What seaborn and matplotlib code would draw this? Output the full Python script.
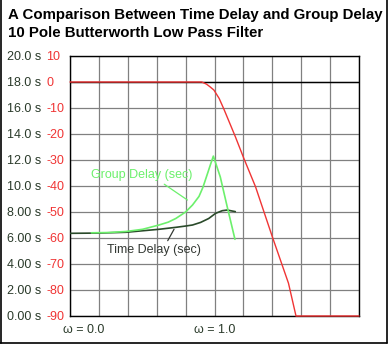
import matplotlib
matplotlib.use("Agg")
import matplotlib.pyplot as plt
from matplotlib.lines import Line2D
import seaborn as sns
import pandas as pd

# ---- data ----
red_w = [-0.25, 0.89, 0.93, 0.96, 0.995, 1.04, 1.08, 1.18, 1.254, 1.355, 1.50, 1.64, 1.705, 2.25]
red_db = [0, 0, -0.8, -1.8, -3.1, -6.3, -10.3, -21, -29.4, -40.3, -59.5, -77.4, -90, -90]

gd_w = [-0.065, 0.08, 0.234, 0.378, 0.52, 0.60, 0.665, 0.75, 0.81, 0.866, 0.90, 0.94, 0.967, 0.99, 1.05, 1.11, 1.177]
gd_s = [6.4, 6.42, 6.5, 6.67, 7.0, 7.22, 7.5, 8.0, 8.54, 9.2, 9.9, 10.97, 11.7, 12.3, 10.7, 8.4, 5.9]

td_w = [-0.25, 0.0, 0.234, 0.52, 0.665, 0.75, 0.81, 0.88, 0.95, 1.01, 1.067, 1.11, 1.18]
td_s = [6.36, 6.38, 6.44, 6.67, 6.82, 6.92, 7.0, 7.2, 7.5, 7.9, 8.1, 8.15, 8.03]

s_ticks = [0, 2, 4, 6, 8, 10, 12, 14, 16, 18, 20]
s_labels = ["0.00 s", "2.00 s", "4.00 s", "6.00 s", "8.00 s", "10.0 s",
            "12.0 s", "14.0 s", "16.0 s", "18.0 s", "20.0 s"]
db_ticks = [-90, -80, -70, -60, -50, -40, -30, -20, -10, 0, 10]
db_labels = ["-90", "-80", "-70", "-60", "-50", "-40", "-30", "-20", "-10", "0", "10"]
x_grid = [-0.25, 0, 0.25, 0.5, 0.75, 1.0, 1.25, 1.5, 1.75, 2.0, 2.25]

title1 = "A Comparison Between Time Delay and Group Delay"
title2 = "10 Pole Butterworth Low Pass Filter"

RED = "#f03434"
LGREEN = "#6cf06c"
DGREEN = "#2a4a2a"
GRID = "#808080"
TXT = "#2a3a2a"

sns.set_style("white")
plt.rcParams["font.family"] = ["Liberation Sans", "DejaVu Sans"]

W, H = 388, 346
fig = plt.figure(figsize=(W / 100, H / 100), dpi=100)
ax = fig.add_axes([70 / W, 30 / H, 289 / W, 260 / H])

ax.set_xlim(-0.25, 2.25)
ax.set_ylim(0, 20)
ax.set_xticks(x_grid)
ax.set_xticklabels([])
ax.set_yticks(s_ticks)
ax.set_yticklabels(s_labels, color=TXT, fontsize=9)
ax.tick_params(axis="both", length=0)
ax.tick_params(axis="y", pad=21)
ax.grid(True, color=GRID, linewidth=0.9)
for sp in ax.spines.values():
    sp.set_color("black")
    sp.set_linewidth(1.0)
    sp.set_visible(True)

ax2 = ax.twinx()
ax2.set_ylim(-90, 10)
ax2.yaxis.tick_left()
ax2.set_yticks(db_ticks)
ax2.set_yticklabels(db_labels, color=RED, fontsize=9)
for lab in ax2.get_yticklabels():
    lab.set_horizontalalignment("left")
ax2.tick_params(axis="y", length=0, pad=17)
ax2.grid(False)
for sp in ax2.spines.values():
    sp.set_visible(False)

# 0 dB reference line
ax2.axhline(0, color="black", linewidth=1.0, zorder=2)

df_red = pd.DataFrame({"w": red_w, "db": red_db})
sns.lineplot(data=df_red, x="w", y="db", ax=ax2, color=RED, linewidth=1.0,
             sort=False, estimator=None, zorder=3)
ax2.lines[-1].set_clip_on(False)

df_gd = pd.DataFrame({"w": gd_w, "s": gd_s})
df_td = pd.DataFrame({"w": td_w, "s": td_s})
sns.lineplot(data=df_td, x="w", y="s", ax=ax2, color=DGREEN, linewidth=1.2,
             sort=False, estimator=None, zorder=4, transform=ax.transData)
sns.lineplot(data=df_gd, x="w", y="s", ax=ax2, color=LGREEN, linewidth=1.2,
             sort=False, estimator=None, zorder=5, transform=ax.transData)
ax2.set_xlabel("")
ax2.set_ylabel("")
ax.set_xlabel("")
ax.set_ylabel("")
ax2.set_xlim(-0.25, 2.25)

# annotations
ax2.annotate("Group Delay (sec)", xy=(0.766, 8.92), xycoords=ax.transData,
             xytext=(0.366, 10.85), textcoords=ax.transData,
             color=LGREEN, fontsize=9, ha="center", va="center",
             arrowprops=dict(arrowstyle="-", color=LGREEN, lw=0.9,
                             shrinkA=0, shrinkB=0,
                             relpos=(0.68, 0.0)))
ax2.annotate("Time Delay (sec)", xy=(0.65, 6.67), xycoords=ax.transData,
             xytext=(0.474, 5.08), textcoords=ax.transData,
             color="#333833", fontsize=9, ha="center", va="center",
             arrowprops=dict(arrowstyle="-", color="#333833", lw=0.9,
                             shrinkA=0, shrinkB=0,
                             relpos=(0.63, 1.0)))

# x labels
ax.text(-0.13, -0.03, "\u03c9 = 0.0", transform=ax.get_xaxis_transform(),
        ha="center", va="top", fontsize=9, color=TXT)
ax.text(1.0, -0.03, "\u03c9 = 1.0", transform=ax.get_xaxis_transform(),
        ha="center", va="top", fontsize=9, color=TXT)

# titles
fig.text(8 / W, 1 - 15.5 / H, title1, ha="left", va="center",
         fontsize=10.8, fontweight="bold", color="black")
fig.text(8 / W, 1 - 33 / H, title2, ha="left", va="center",
         fontsize=10.8, fontweight="bold", color="black")

# figure frame (left, right, bottom)
fig.add_artist(Line2D([0.6 / W, 0.6 / W], [3 / H, 1], color="black", lw=1.2,
                      transform=fig.transFigure))
fig.add_artist(Line2D([387 / W, 387 / W], [3 / H, 1], color="black", lw=1.2,
                      transform=fig.transFigure))
fig.add_artist(Line2D([0, 387 / W], [3 / H, 3 / H], color="black", lw=1.2,
                      transform=fig.transFigure))

fig.savefig("out.png", dpi=100)
